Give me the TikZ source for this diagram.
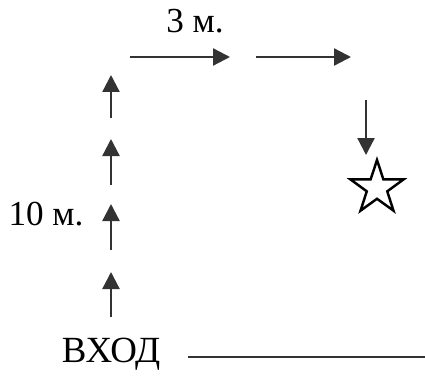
\documentclass[tikz,border=0pt]{standalone}
\usepackage{fontspec}
\setmainfont{Liberation Serif}
\usetikzlibrary{arrows.meta,shapes.geometric}

\begin{document}
\begin{tikzpicture}[>={Triangle[length=1.7mm,width=1.7mm]}, line width=0.65pt,
    lbl/.style={font=\fontsize{10}{12}\selectfont, inner sep=0pt, anchor=base},
    route/.style={->, draw=black!80}]
    \useasboundingbox (0,0) rectangle (4.25,3.81);

    % labels
    \node[lbl] (len3) at (1.95,3.48) {3 м.};
    \node[lbl] (len10) at (0.46,1.56) {10 м.};
    \node[lbl, font=\fontsize{10.5}{12}\selectfont] (entry) at (1.11,0.19) {ВХОД};

    % way up from the entrance
    \foreach \i/\ya/\yb in {1/0.64/1.09, 2/1.31/1.77, 3/1.96/2.42, 4/2.63/3.06} {
        \coordinate (up\i a) at (1.11,\ya);
        \coordinate (up\i b) at (1.11,\yb);
        \draw[route] (up\i a) -- (up\i b);
    }

    % way to the right
    \coordinate (r1a) at (1.30,3.24);
    \coordinate (r1b) at (2.30,3.24);
    \coordinate (r2a) at (2.56,3.24);
    \coordinate (r2b) at (3.51,3.24);
    \draw[route] (r1a) -- (r1b);
    \draw[route] (r2a) -- (r2b);

    % goal
    \node[star, star points=5, star point ratio=2.6, draw, line width=0.7pt,
          minimum size=0.56cm, inner sep=0pt] (goal) at (3.77,1.93) {};
    \coordinate (downa) at (3.66,2.81);
    \coordinate (downb) at (3.66,2.26);
    \draw[route] (downa) -- (downb);

    % wall
    \coordinate (wallL) at (1.88,0.24);
    \coordinate (wallR) at (4.25,0.24);
    \draw[draw=black!80] (wallL) -- (wallR);
\end{tikzpicture}
\end{document}
